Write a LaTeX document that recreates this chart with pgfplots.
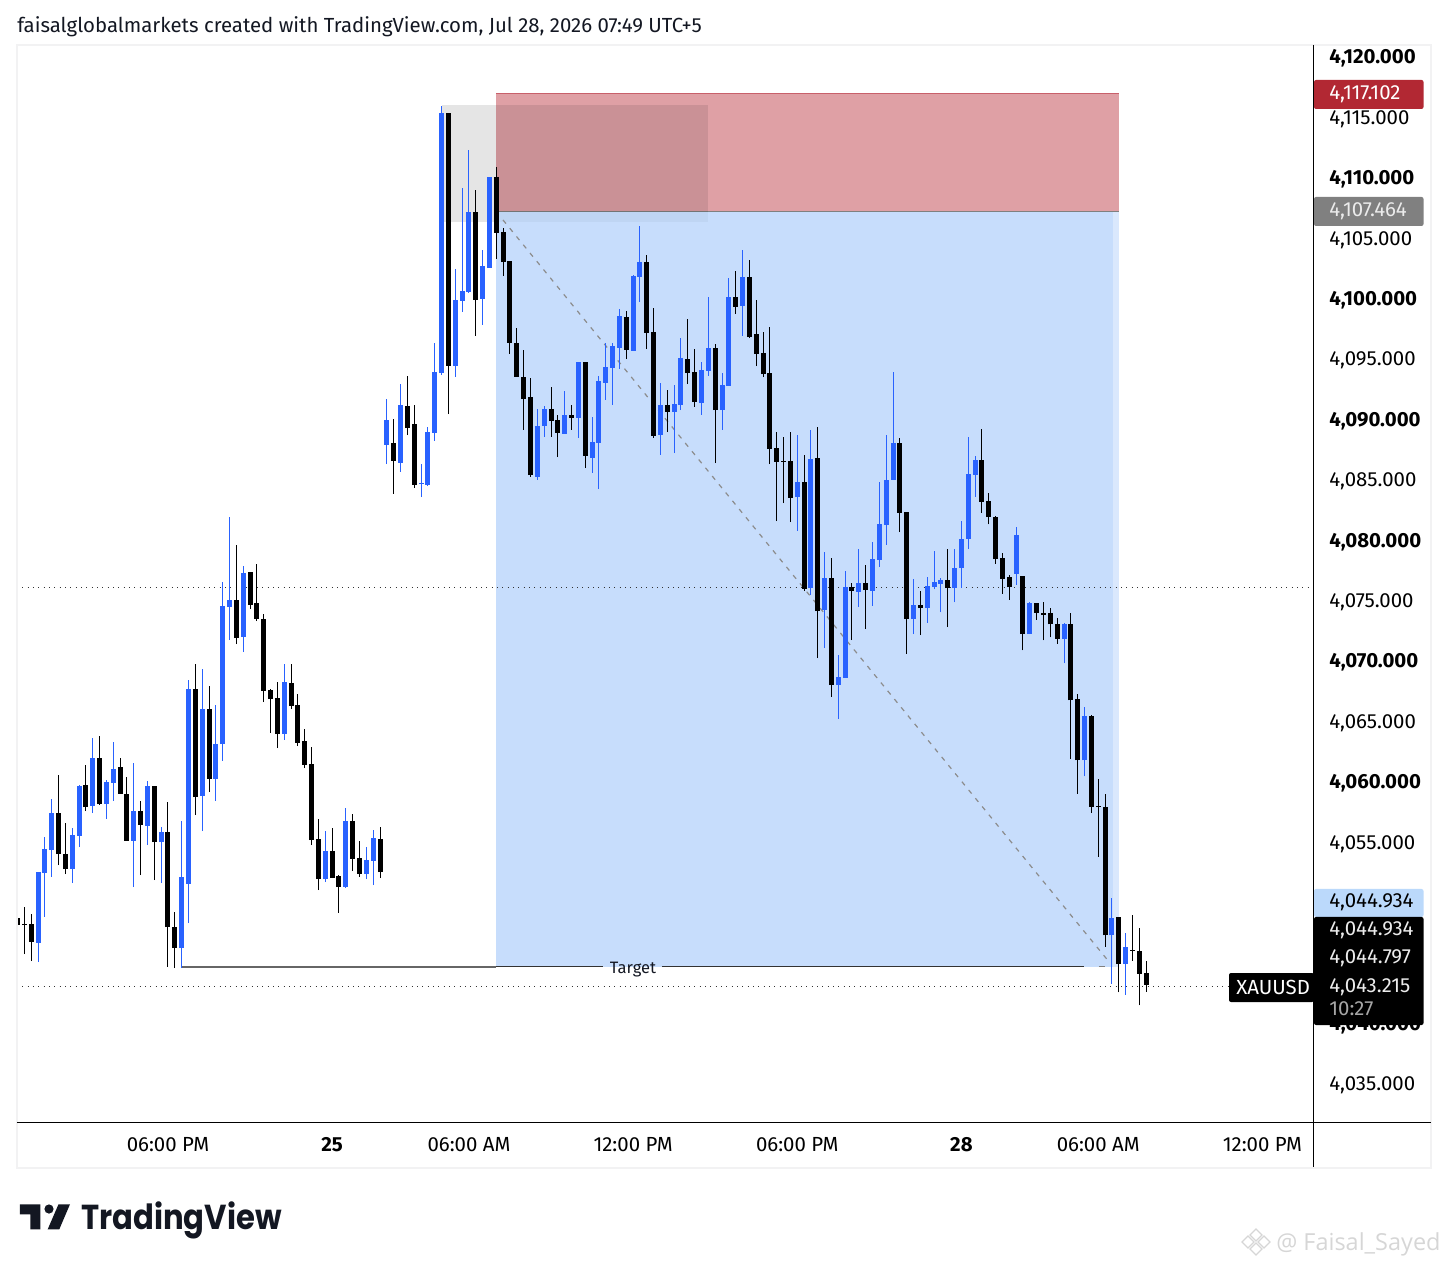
\documentclass[border=0pt]{standalone}
\usepackage{fontspec}
\usepackage{pgfplots}
\usepackage{pgfplotstable}
\pgfplotsset{compat=1.18}
\setmainfont{Fira Sans}
\newfontfamily\tvfont{Poppins}
\newfontfamily\wmfont{Open Sans}
\definecolor{tvblue}{HTML}{2962FF}
\definecolor{rrect}{HTML}{DFA0A5}
\definecolor{rline}{HTML}{C8606B}
\definecolor{brect}{HTML}{C7DDFC}
\definecolor{bstrip}{HTML}{DAE8FD}
\definecolor{frame}{HTML}{F2F2F3}
\definecolor{redlbl}{HTML}{B22833}
\definecolor{graylbl}{HTML}{808080}
\definecolor{bluelbl}{HTML}{BBD9FB}
\definecolor{ink}{HTML}{131722}
\definecolor{wm}{HTML}{D6D6D6}
\pgfplotstableread{
x o h l c
3 4046.66 4052.54 4045.09 4052.54
4 4052.46 4055.44 4048.82 4054.44
5 4054.36 4058.58 4052.13 4057.42
8 4052.79 4056.18 4051.63 4055.60
9 4055.52 4059.74 4054.61 4059.66
11 4058.00 4063.63 4057.42 4061.98
13 4058.17 4060.15 4056.93 4059.99
14 4059.91 4063.30 4058.42 4061.06
17 4055.11 4061.56 4051.30 4057.59
19 4056.35 4060.07 4054.77 4059.66
21 4055.02 4056.26 4051.63 4055.85
24 4046.25 4056.76 4044.59 4052.13
25 4051.55 4068.43 4048.32 4067.69
27 4058.83 4069.34 4055.93 4066.03
29 4060.24 4066.36 4058.42 4063.13
30 4063.13 4076.54 4061.73 4074.56
31 4074.47 4081.92 4071.74 4075.05
33 4071.99 4077.87 4070.75 4077.29
39 4063.96 4069.76 4063.47 4068.27
45 4051.96 4055.93 4051.71 4054.28
48 4051.30 4057.84 4051.22 4056.76
51 4052.37 4054.61 4051.96 4053.53
52 4053.45 4056.02 4051.46 4055.35
54 4087.89 4091.69 4086.31 4089.96
56 4086.40 4092.94 4085.65 4091.20
59 4084.66 4086.31 4083.58 4084.74
60 4084.58 4089.38 4084.49 4088.96
61 4088.88 4096.33 4088.22 4093.93
62 4093.85 4115.95 4093.68 4115.37
64 4094.43 4102.45 4093.52 4099.89
65 4099.81 4109.16 4098.90 4100.63
66 4100.55 4112.30 4100.47 4107.17
68 4099.97 4104.03 4097.82 4102.70
69 4102.54 4110.07 4102.54 4110.07
76 4085.24 4090.87 4084.99 4089.46
77 4089.46 4091.11 4088.55 4090.87
80 4088.80 4092.36 4088.80 4090.37
82 4090.12 4094.76 4088.47 4094.76
84 4086.81 4090.20 4085.57 4088.13
85 4088.05 4093.60 4084.24 4093.18
86 4093.02 4096.33 4091.61 4094.34
87 4094.26 4096.33 4091.20 4096.08
88 4095.92 4099.14 4094.18 4098.56
90 4095.67 4101.96 4095.67 4101.87
91 4101.79 4106.01 4099.72 4103.03
94 4088.71 4093.02 4087.06 4091.20
96 4090.62 4092.85 4087.22 4091.28
97 4091.20 4096.74 4090.78 4095.09
100 4091.36 4094.75 4090.37 4094.09
101 4094.01 4100.13 4093.60 4095.91
103 4090.78 4093.84 4089.13 4092.85
104 4092.77 4101.71 4092.77 4100.13
106 4099.39 4104.02 4096.91 4101.79
114 4083.58 4088.71 4080.77 4084.82
116 4076.05 4089.13 4075.47 4086.73
118 4074.23 4079.03 4071.08 4076.88
120 4068.02 4070.50 4065.21 4068.68
121 4068.60 4077.46 4068.60 4076.13
123 4075.72 4079.28 4074.48 4076.46
125 4075.80 4079.86 4074.56 4078.45
126 4078.37 4084.82 4077.79 4081.35
127 4081.26 4088.71 4079.61 4084.99
128 4084.99 4093.93 4084.99 4088.05
131 4073.48 4076.79 4072.24 4074.64
133 4074.39 4076.98 4073.19 4076.22
134 4076.13 4079.07 4075.94 4076.51
135 4076.41 4076.89 4074.04 4076.67
137 4076.03 4079.26 4074.86 4077.74
138 4077.74 4081.62 4076.03 4080.14
139 4080.14 4088.54 4079.26 4085.48
140 4085.42 4086.96 4083.62 4086.65
146 4077.23 4081.12 4076.32 4080.46
148 4072.27 4074.93 4072.24 4074.77
153 4071.86 4073.19 4069.81 4073.10
156 4061.79 4066.18 4060.46 4065.42
160 4047.29 4050.41 4043.31 4048.77
162 4044.95 4047.51 4042.39 4046.37
}\bluec
\pgfplotstableread{
x o h l c
0 4048.70 4053.62 4045.67 4048.15
1 4048.24 4049.64 4045.75 4048.15
2 4048.24 4049.06 4045.17 4046.75
6 4057.42 4060.57 4053.12 4054.03
7 4054.03 4056.60 4052.37 4052.79
10 4059.74 4061.40 4057.59 4057.92
12 4061.98 4063.80 4058.09 4058.17
15 4061.23 4061.98 4059.00 4059.00
16 4059.00 4060.40 4055.11 4055.11
18 4057.59 4058.42 4052.29 4056.43
20 4059.66 4059.66 4051.88 4055.02
22 4055.85 4058.33 4044.68 4047.99
23 4047.99 4049.23 4044.59 4046.25
26 4067.69 4069.76 4057.26 4058.75
28 4066.03 4067.93 4059.16 4060.24
32 4075.05 4079.61 4071.41 4071.91
34 4077.37 4077.37 4074.31 4074.64
35 4074.80 4078.03 4073.31 4073.48
36 4073.48 4073.89 4066.61 4067.52
37 4067.60 4067.69 4064.04 4066.86
38 4066.94 4068.27 4062.80 4063.96
40 4068.18 4069.76 4066.03 4066.28
41 4066.36 4067.27 4062.97 4063.22
42 4063.38 4064.38 4061.15 4061.40
43 4061.48 4062.89 4054.77 4055.19
44 4055.27 4056.93 4051.05 4051.96
46 4054.28 4056.18 4052.04 4052.04
47 4052.21 4052.29 4049.15 4051.30
49 4056.76 4057.34 4052.62 4053.62
50 4053.70 4055.11 4052.13 4052.37
53 4055.27 4056.26 4052.04 4052.54
55 4088.05 4090.04 4083.83 4086.56
57 4091.11 4093.60 4088.71 4089.29
58 4089.62 4091.20 4084.33 4084.58
63 4115.37 4115.37 4090.45 4094.43
67 4107.17 4108.99 4096.91 4099.89
70 4110.07 4110.90 4103.28 4105.43
71 4105.52 4105.85 4101.87 4103.03
72 4103.12 4103.12 4095.42 4096.33
73 4096.33 4097.57 4093.52 4093.52
74 4093.52 4095.75 4089.13 4091.69
75 4091.86 4093.43 4085.24 4085.40
78 4090.87 4092.69 4088.55 4089.87
79 4089.96 4090.37 4086.89 4088.88
81 4090.37 4091.20 4089.13 4090.12
83 4094.76 4094.76 4085.98 4086.98
89 4098.48 4098.98 4095.00 4095.75
92 4103.03 4103.61 4095.83 4097.16
93 4097.24 4099.23 4088.47 4088.63
95 4091.20 4092.44 4088.96 4090.62
98 4095.00 4098.31 4092.93 4093.84
99 4093.93 4095.83 4091.03 4091.44
102 4095.91 4096.24 4086.39 4090.78
105 4100.13 4102.29 4098.73 4099.31
107 4101.79 4103.20 4096.74 4096.82
108 4097.07 4099.89 4094.42 4095.42
109 4095.50 4097.24 4093.51 4093.76
110 4093.84 4097.65 4086.31 4087.55
111 4087.64 4088.96 4081.59 4086.48
112 4086.59 4088.55 4083.08 4086.51
113 4086.56 4088.96 4081.51 4083.50
115 4084.82 4087.06 4075.80 4075.97
117 4086.81 4089.37 4070.25 4074.14
119 4076.88 4078.53 4067.03 4068.02
122 4076.13 4076.46 4071.74 4075.80
124 4076.46 4077.95 4072.65 4075.88
129 4088.05 4088.46 4080.68 4082.26
130 4082.34 4082.34 4070.59 4073.48
132 4074.61 4075.84 4072.15 4074.39
136 4076.67 4079.26 4072.81 4076.03
141 4086.65 4089.21 4082.29 4083.17
142 4083.27 4083.90 4081.31 4081.91
143 4081.94 4082.00 4078.06 4078.43
144 4078.56 4078.94 4075.59 4076.82
145 4076.92 4077.14 4075.09 4076.10
147 4077.08 4077.08 4070.88 4072.24
149 4074.83 4074.83 4073.44 4074.01
150 4073.95 4074.93 4071.71 4073.85
151 4073.95 4074.42 4071.96 4073.03
152 4073.03 4073.54 4071.45 4071.86
154 4073.10 4073.98 4061.88 4066.75
155 4066.84 4067.25 4059.01 4061.79
157 4065.42 4065.51 4057.43 4057.93
158 4058.00 4060.24 4053.79 4057.93
159 4057.93 4059.01 4046.37 4047.29
161 4048.83 4048.83 4042.58 4044.95
163 4046.12 4048.99 4045.20 4046.02
164 4046.02 4047.92 4041.51 4044.13
165 4044.22 4045.20 4042.64 4043.22
}\blackc
\newcommand{\lbl}[4]{\node[anchor=base west,inner sep=0pt,text=#3,font=\fontsize{15.3}{17}\selectfont] at (#1,#2) {#4};}
\begin{document}
\begin{tikzpicture}
\path[use as bounding box] (-12.75pt,-108.75pt) rectangle (1073.25pt,841.5pt);
\begin{axis}[
  at={(0,0)},anchor=south west,scale only axis,
  width=972pt,height=807.75pt,
  xmin=-0.073,xmax=189.40,ymin=4031.85,ymax=4120.993,
  axis line style={draw=none},
  major tick length=0pt,
  tick style={draw=none},
  ticklabel style={font=\fontsize{15.3}{17}\selectfont,text=black},
  xtick={22,46,66,90,114,138,158,182},
  xticklabels={06:00 PM,\textbf{25},06:00 AM,12:00 PM,06:00 PM,\textbf{28},06:00 AM,12:00 PM},
  xticklabel style={anchor=center,yshift=-17pt},
  ytick={4035,4040,4045,4050,4055,4060,4065,4070,4075,4080,4085,4090,4095,4100,4105,4110,4115,4120},
  yticklabels={{4,035.000},{\textbf{4,040.000}},{},{},{4,055.000},{\textbf{4,060.000}},{4,065.000},{\textbf{4,070.000}},{4,075.000},{\textbf{4,080.000}},{4,085.000},{\textbf{4,090.000}},{4,095.000},{\textbf{4,100.000}},{4,105.000},{\textbf{4,110.000}},{4,115.000},{\textbf{4,120.000}}},
  yticklabel pos=right,
  yticklabel style={anchor=west,inner xsep=0pt,xshift=12pt,yshift=-1.2pt},
]
% position tool zones
\addplot[fill=brect,draw=none,forget plot] coordinates {(69.95,4107.17)(160.09,4107.17)(160.09,4044.68)(69.95,4044.68)};
\addplot[fill=bstrip,draw=none,forget plot] coordinates {(160.09,4107.17)(161.04,4107.17)(161.04,4044.68)(160.09,4044.68)};
\addplot[fill=rrect,draw=none,forget plot] coordinates {(69.95,4116.94)(161.04,4116.94)(161.04,4107.17)(69.95,4107.17)};
\addplot[draw=rline,line width=.75pt,forget plot] coordinates {(69.95,4116.94)(161.04,4116.94)};
\addplot[draw=black!50,line width=.75pt,forget plot] coordinates {(69.95,4107.17)(161.04,4107.17)};
\addplot[fill=black,fill opacity=.1,draw=none,forget plot] coordinates {(61.99,4116.03)(69.95,4116.03)(69.95,4106.38)(61.99,4106.38)};
\addplot[fill=black,fill opacity=.09,draw=none,forget plot] coordinates {(69.95,4116.03)(100.95,4116.03)(100.95,4107.17)(69.95,4107.17)};
\addplot[fill=black,fill opacity=.035,draw=none,forget plot] coordinates {(69.95,4107.17)(100.95,4107.17)(100.95,4106.38)(69.95,4106.38)};
% dotted price lines
\addplot[black!80,line width=.75pt,dash pattern=on .75pt off 3.25pt,forget plot] coordinates {(-0.073,4076.13)(189.40,4076.13)};
\addplot[black!80,line width=.75pt,dash pattern=on .75pt off 3.25pt,forget plot] coordinates {(-0.073,4043.03)(177.12,4043.03)};
% diagonal
\addplot[black!45,line width=.9pt,dash pattern=on 3.5pt off 4.5pt,forget plot] coordinates {(70.98,4106.51)(159.72,4045.01)};
% target
\addplot[black!60,line width=.9pt,forget plot] coordinates {(23.9,4044.68)(69.95,4044.68)};
\addplot[black!80,line width=.75pt,forget plot] coordinates {(69.95,4044.68)(85.6,4044.68)};
\addplot[black!80,line width=.75pt,forget plot] coordinates {(94.2,4044.68)(155.9,4044.68)};
\addplot[black!50,line width=.75pt,forget plot] coordinates {(158.1,4044.68)(158.96,4044.68)};
% candles
\addplot[draw=none,mark=none,forget plot,error bars/.cd,y dir=plus,y explicit,error mark=none,error bar style={line width=.75pt,draw=tvblue}] table[x=x,y=l,y error plus expr=\thisrow{h}-\thisrow{l}] {\bluec};
\addplot[draw=none,mark=none,forget plot,error bars/.cd,y dir=plus,y explicit,error mark=none,error bar style={line width=3.75pt,draw=tvblue}] table[x=x,y=o,y error plus expr=\thisrow{c}-\thisrow{o}] {\bluec};
\addplot[draw=none,mark=none,forget plot,error bars/.cd,y dir=plus,y explicit,error mark=none,error bar style={line width=.75pt,draw=black}] table[x=x,y=l,y error plus expr=\thisrow{h}-\thisrow{l}] {\blackc};
\addplot[draw=none,mark=none,forget plot,error bars/.cd,y dir=plus,y explicit,error mark=none,error bar style={line width=3.75pt,draw=black}] table[x=x,y=c,y error plus expr=\thisrow{o}-\thisrow{c}] {\blackc};
\end{axis}
\begin{scope}[x=.75pt,y=-.75pt,shift={(-12.75pt,841.5pt)}]
% frame and axes
\draw[frame,line width=1.5pt] (17,45) rectangle (1431,1168);
\draw[black,line width=.75pt] (17,1122) -- (1431,1122);
\draw[black,line width=.75pt] (1313,45) -- (1313,1167);
% title
\node[anchor=base west,inner sep=0pt,text=ink,font=\fontsize{15.3}{17}\selectfont] at (17,33) {faisalglobalmarkets created with TradingView.com, Jul 28, 2026 07:49 UTC+5};
% target text
\node[inner sep=0pt,text=ink,font=\fontsize{12.4}{14}\selectfont] at (633,970) {Target};
% price labels
\fill[redlbl,rounded corners=1.5pt] (1314,80) rectangle (1423.5,109);
\fill[graylbl,rounded corners=1.5pt] (1314,197) rectangle (1423.5,226);
\fill[bluelbl,rounded corners=1.5pt] (1314,889) rectangle (1423.5,917);
\fill[black,rounded corners=1.5pt] (1314,917) rectangle (1423.5,1025);
\fill[black,rounded corners=1.5pt] (1229,973) rectangle (1314,1002);
\lbl{1329}{100}{white}{4,117.102}
\lbl{1329}{217}{black!8}{4,107.464}
\lbl{1329}{908}{black}{4,044.934}
\lbl{1329}{936}{black!8}{4,044.934}
\lbl{1329}{964}{black!8}{4,044.797}
\lbl{1329}{992}{black!8}{4,043.215}
\lbl{1329}{1015}{black!35}{10:27}
\lbl{1236}{994}{white}{XAUUSD}
% logo
\fill[ink] (20,1204.3) -- (40.3,1204.3) -- (40.3,1229.3) -- (30.3,1229.3) -- (30.3,1214.3) -- (20,1214.3) -- cycle;
\fill[ink] (49,1209) circle[radius=4.6];
\fill[ink] (58.5,1204.3) -- (70,1204.3) -- (59.3,1229.3) -- (47.7,1229.3) -- cycle;
\node[anchor=base west,inner sep=0pt,text=ink,font=\tvfont\fontsize{26}{30}\selectfont\bfseries] at (81,1229.3) {\scalebox{.885}[1]{TradingView}};
% watermark
\begin{scope}[wm,line width=.9pt]
\draw (1256,1229) -- (1262,1235) -- (1256,1241) -- (1250,1235) -- cycle;
\draw (1248,1236) -- (1254,1242) -- (1248,1248) -- (1242,1242) -- cycle;
\draw (1264,1236) -- (1270,1242) -- (1264,1248) -- (1258,1242) -- cycle;
\draw (1256,1243) -- (1262,1249) -- (1256,1255) -- (1250,1249) -- cycle;
\end{scope}
\node[anchor=base west,inner sep=0pt,text=wm,font=\wmfont\fontsize{17.6}{20}\selectfont] at (1276,1250) {@ Faisal\_Sayed};
\end{scope}
\end{tikzpicture}
\end{document}
